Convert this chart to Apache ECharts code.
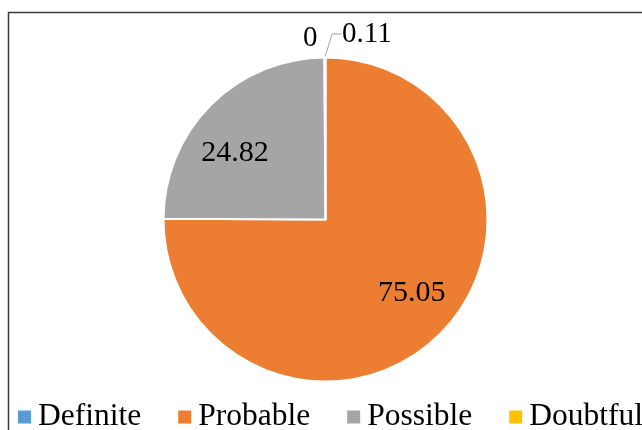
<!DOCTYPE html>
<html><head><meta charset="utf-8">
<script src="https://cdn.jsdelivr.net/npm/echarts@6/dist/echarts.min.js"></script>
<style>html,body{margin:0;padding:0;background:#fff}#c{width:642px;height:430px}</style>
</head><body><div id="c"></div>
<script>
const categories = ['Definite', 'Probable', 'Possible', 'Doubtful'];
const values = [0, 75.05, 24.82, 0.11];
const labels = ['0', '75.05', '24.82', '0.11'];
const colors = ['#5b9bd5', '#ed7d31', '#a5a5a5', '#ffc000'];

const font = '"Liberation Serif", "DejaVu Serif", serif';
const chart = echarts.init(document.getElementById('c'));

const data = categories.map((name, i) => {
  const outside = values[i] < 1;
  return {
    name: name,
    value: values[i],
    itemStyle: { color: colors[i] },
    label: {
      show: true,
      position: outside ? 'outside' : 'inside',
      formatter: labels[i],
      fontSize: outside ? 29 : 30,
      fontFamily: font,
      color: '#000'
    },
    labelLine: {
      show: i === 3,
      length: 12,
      length2: 10,
      lineStyle: { color: '#a5a5a5', width: 1 }
    }
  };
});

chart.setOption({
  animation: false,
  graphic: [{
    type: 'rect',
    shape: { x: 8.5, y: 12.5, width: 700, height: 500 },
    style: { fill: 'none', stroke: '#3a3a3a', lineWidth: 1.5 },
    silent: true, z: -1
  }],
  legend: {
    data: categories,
    left: 11,
    top: 396,
    width: 1000,
    icon: 'rect',
    itemWidth: 15,
    itemHeight: 15,
    itemGap: 35,
    textStyle: { fontSize: 31.5, fontFamily: font, color: '#000', padding: [0, 0, 0, 1] }
  },
  series: [{
    type: 'pie',
    center: [325.5, 219.5],
    radius: [0, 162],
    startAngle: 90,
    clockwise: true,
    avoidLabelOverlap: false,
    minShowLabelAngle: -1,
    itemStyle: { borderColor: '#fff', borderWidth: 2 },
    data: data,
    labelLayout: function (p) {
      if (p.dataIndex === 0) return { dx: 7, dy: -7 };
      if (p.dataIndex === 1) return { dx: 27, dy: 14 };
      if (p.dataIndex === 2) return { dx: -31, dy: -7 };
      if (p.dataIndex === 3) return { x: 342, y: 34, align: 'left', verticalAlign: 'middle' };
      return {};
    }
  }]
});
</script></body></html>
